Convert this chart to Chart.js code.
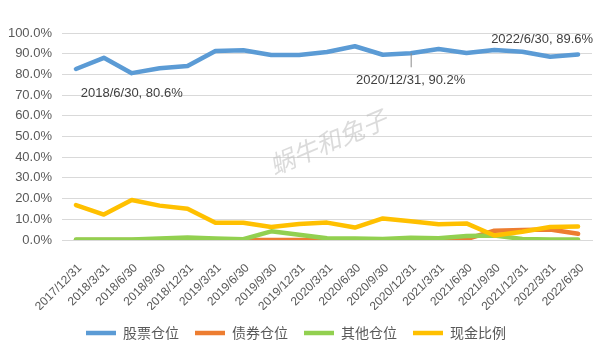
<!DOCTYPE html>
<html>
<head>
<meta charset="utf-8">
<script src="https://cdn.jsdelivr.net/npm/chart.js"></script>
<style>
  body { margin: 0; background: #fff; }
  #wrap { width: 607px; height: 362px; }
</style>
</head>
<body>
<div id="wrap"><canvas id="posChart" width="607" height="362"></canvas></div>
<script>
const dates = ['2017/12/31', '2018/3/31', '2018/6/30', '2018/9/30', '2018/12/31', '2019/3/31',
  '2019/6/30', '2019/9/30', '2019/12/31', '2020/3/31', '2020/6/30', '2020/9/30', '2020/12/31',
  '2021/3/31', '2021/6/30', '2021/9/30', '2021/12/31', '2022/3/31', '2022/6/30'];
const stockPos = [82.6, 88.0, 80.6, 83.0, 84.1, 91.3, 91.7, 89.4, 89.4, 90.8, 93.6, 89.5, 90.2, 92.3, 90.3, 91.8, 90.9, 88.5, 89.6];
const bondPos = [0, 0, 0, 0, 0, 0, 0, 0, 0, 0, 0, 0, 0, 0, 0.4, 4.5, 4.8, 5.1, 3.0];
const otherPos = [0.3, 0.3, 0.3, 0.7, 1.2, 0.7, 0.4, 4.2, 2.5, 0.8, 0.7, 0.5, 1.1, 0.9, 1.9, 2.2, 0.5, 0.3, 0.3];
const cashPct = [16.9, 12.3, 19.3, 16.6, 15.1, 8.3, 8.3, 6.3, 7.7, 8.4, 6.0, 10.4, 9.1, 7.6, 8.0, 2.2, 4.0, 6.3, 6.5];
const seriesNames = ['股票仓位', '债券仓位', '其他仓位', '现金比例'];

// labelled points on the stock line: [index, dx, dy, align]
const calloutPts = [[2, 0, 20, 'center'], [12, 0, 27, 'center'], [18, 15, -15, 'right']];

const latin = '"Liberation Sans", Arial, sans-serif';
const cjk = '"Noto Sans CJK SC", sans-serif';

const extras = {
  id: 'extras',
  beforeDatasetsDraw(chart) {
    const c = chart.ctx;
    c.save();
    c.translate(328, 142);
    c.rotate(-23 * Math.PI / 180);
    c.font = 'italic 25px ' + cjk;
    c.fillStyle = 'rgba(190,190,190,0.55)';
    c.textAlign = 'center';
    c.textBaseline = 'middle';
    c.fillText('蜗牛和兔子', 0, 0);
    c.restore();
  },
  afterDatasetsDraw(chart) {
    const c = chart.ctx;
    const meta = chart.getDatasetMeta(0);
    c.save();
    c.font = '13px ' + latin;
    c.fillStyle = '#404040';
    c.textBaseline = 'middle';
    calloutPts.forEach(([i, dx, dy, align]) => {
      const p = meta.data[i];
      const txt = dates[i] + ', ' + stockPos[i].toFixed(1) + '%';
      if (dy > 22) {
        c.strokeStyle = '#8c8c8c';
        c.lineWidth = 1;
        c.beginPath();
        c.moveTo(p.x + 0.5, p.y);
        c.lineTo(p.x + 0.5, p.y + dy - 13);
        c.stroke();
      }
      c.textAlign = align;
      c.fillText(txt, p.x + dx, p.y + dy);
    });
    c.restore();
  }
};

const mk = (label, data, color, order) => ({
  label, data, order,
  borderColor: color,
  backgroundColor: color,
  borderWidth: 4.5,
  pointRadius: 0,
  tension: 0,
  borderJoinStyle: 'round',
  borderCapStyle: 'round'
});

new Chart(document.getElementById('posChart').getContext('2d'), {
  type: 'line',
  data: {
    labels: dates,
    datasets: [
      mk(seriesNames[0], stockPos, '#5B9BD5', 3),
      mk(seriesNames[1], bondPos, '#ED7D31', 2),
      mk(seriesNames[2], otherPos, '#92D050', 1),
      mk(seriesNames[3], cashPct, '#FFC000', 0)
    ]
  },
  options: {
    responsive: false,
    animation: false,
    layout: { padding: { left: 0, right: 15, top: 33, bottom: 12 } },
    scales: {
      x: {
        offset: true,
        afterFit: s => { s.height = 70; },
        grid: { display: false },
        border: { color: '#d9d9d9' },
        ticks: {
          color: '#595959',
          font: { family: latin, size: 12 },
          minRotation: 45,
          maxRotation: 45,
          autoSkip: false,
          padding: 13,
          labelOffset: 4
        }
      },
      y: {
        min: 0,
        max: 100,
        afterFit: s => { s.width = 62; },
        grid: { color: '#d9d9d9', drawTicks: false },
        border: { display: false },
        ticks: {
          stepSize: 10,
          color: '#595959',
          padding: 10,
          font: { family: latin, size: 13 },
          callback: v => v.toFixed(1) + '%'
        }
      }
    },
    plugins: {
      tooltip: { enabled: false },
      legend: {
        position: 'bottom',
        labels: {
          usePointStyle: true,
          pointStyle: 'line',
          pointStyleWidth: 30,
          color: '#595959',
          font: { family: cjk, size: 14 },
          padding: 16,
          sort: (a, b) => a.datasetIndex - b.datasetIndex
        }
      }
    }
  },
  plugins: [extras]
});
</script>
</body>
</html>
